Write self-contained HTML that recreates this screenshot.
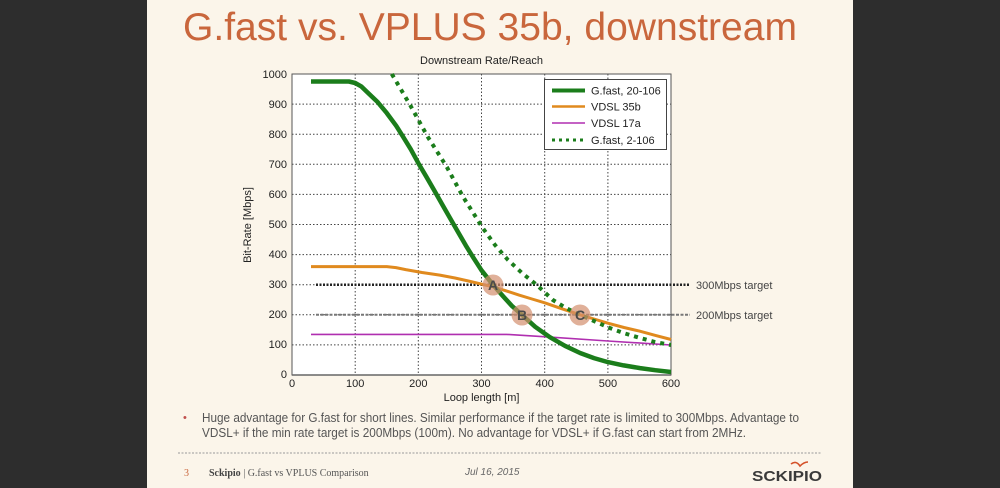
<!DOCTYPE html>
<html>
<head>
<meta charset="utf-8">
<style>
html,body{margin:0;padding:0;width:1000px;height:488px;overflow:hidden;background:#2d2d2d;}
svg{display:block;}
text{font-family:"Liberation Sans",Arial,sans-serif;}
</style>
</head>
<body>
<svg width="1000" height="488" viewBox="0 0 1000 488" xmlns="http://www.w3.org/2000/svg">
  <rect x="0" y="0" width="1000" height="488" fill="#2d2d2d"/>
  <rect x="147" y="0" width="706" height="488" fill="#fbf5ea"/>

  <!-- Title -->
  <text x="183" y="40" font-size="39" fill="#c9663c" textLength="614" lengthAdjust="spacingAndGlyphs">G.fast vs. VPLUS 35b, downstream</text>

  <!-- Chart title -->
  <text x="481.5" y="64" font-size="11" fill="#222" text-anchor="middle">Downstream Rate/Reach</text>

  <!-- Plot area -->
  <rect x="292" y="74" width="379" height="301" fill="#ffffff"/>
  <g stroke="#444" stroke-width="1" stroke-dasharray="1.5 2" fill="none">
    <line x1="355.2" y1="74" x2="355.2" y2="375"/>
    <line x1="418.3" y1="74" x2="418.3" y2="375"/>
    <line x1="481.5" y1="74" x2="481.5" y2="375"/>
    <line x1="544.7" y1="74" x2="544.7" y2="375"/>
    <line x1="607.9" y1="74" x2="607.9" y2="375"/>
    <line x1="292" y1="344.9" x2="671" y2="344.9"/>
    <line x1="292" y1="314.8" x2="671" y2="314.8"/>
    <line x1="292" y1="284.7" x2="671" y2="284.7"/>
    <line x1="292" y1="254.6" x2="671" y2="254.6"/>
    <line x1="292" y1="224.5" x2="671" y2="224.5"/>
    <line x1="292" y1="194.4" x2="671" y2="194.4"/>
    <line x1="292" y1="164.3" x2="671" y2="164.3"/>
    <line x1="292" y1="134.2" x2="671" y2="134.2"/>
    <line x1="292" y1="104.1" x2="671" y2="104.1"/>
  </g>
  <rect x="292" y="74" width="379" height="301" fill="none" stroke="#555" stroke-width="1"/>
  <line x1="292" y1="375" x2="671" y2="375" stroke="#666" stroke-width="1.5"/>

  <!-- Y tick labels -->
  <g font-size="11" fill="#222" text-anchor="end">
    <text x="287" y="78">1000</text>
    <text x="287" y="108">900</text>
    <text x="287" y="138">800</text>
    <text x="287" y="168">700</text>
    <text x="287" y="198">600</text>
    <text x="287" y="228">500</text>
    <text x="287" y="258">400</text>
    <text x="287" y="288">300</text>
    <text x="287" y="318">200</text>
    <text x="287" y="348">100</text>
    <text x="287" y="378">0</text>
  </g>
  <!-- X tick labels -->
  <g font-size="11" fill="#222" text-anchor="middle">
    <text x="292" y="387">0</text>
    <text x="355.2" y="387">100</text>
    <text x="418.3" y="387">200</text>
    <text x="481.5" y="387">300</text>
    <text x="544.7" y="387">400</text>
    <text x="607.9" y="387">500</text>
    <text x="671" y="387">600</text>
  </g>
  <text x="481.5" y="401" font-size="11" fill="#222" text-anchor="middle">Loop length [m]</text>
  <text x="0" y="0" font-size="11" fill="#222" text-anchor="middle" transform="translate(251,225) rotate(-90)">Bit-Rate [Mbps]</text>

  <!-- Target lines -->
  <line x1="316" y1="284.7" x2="690" y2="284.7" stroke="#222" stroke-width="2.5" stroke-dasharray="2 1.5"/>
  <line x1="316" y1="314.8" x2="690" y2="314.8" stroke="#777" stroke-width="2" stroke-dasharray="3 1.5"/>
  <text x="696" y="289" font-size="11" fill="#444">300Mbps target</text>
  <text x="696" y="319" font-size="11" fill="#444">200Mbps target</text>

  <!-- VDSL 17a -->
  <polyline fill="none" stroke="#b02fb0" stroke-width="1.6" stroke-linejoin="round"
    points="311,334.4 506.8,334.4 549.7,337.1 607.9,341 671,345"/>

  <!-- VDSL 35b -->
  <polyline fill="none" stroke="#e08a1e" stroke-width="3" stroke-linejoin="round"
    points="311,266.6 386.8,266.6 396,267.6 405.7,269.6 422,272.5 439.8,275.1 455,278 468.9,281.1 492.9,286.8 506,290.8 519.4,295.2 532,299 544.7,302.8 562,308.8 580.1,314.8 594,319 607.9,323.2 624,327.5 639.4,331.1 655,335.3 671,339.5"/>

  <!-- G.fast 2-106 dotted -->
  <polyline fill="none" stroke="#1b7d1b" stroke-width="4" stroke-dasharray="4 5" stroke-linejoin="round"
    points="391.8,74 410.1,105 427.8,136.9 446.8,167 463.2,197.1 482.8,228.1 495,245 508,260 522,273 536.5,284.7 552.9,300 566,308 580.1,314.8 595,321.5 609.7,328 625,333.5 640.1,338 655,342 671,345"/>

  <!-- G.fast 20-106 solid -->
  <polyline fill="none" stroke="#1b7d1b" stroke-width="4.5" stroke-linejoin="round" stroke-linecap="butt"
    points="311,81.5 348.9,81.5 355.2,83.0 361.5,86.6 367.2,92.1 377.3,101.7 386.8,113.1 396.2,125.8 403.2,136.9 410.8,149.3 418.3,163.1 426.6,177.2 434.8,191.4 442.3,204.6 449.9,217.9 457.5,231.1 465.7,245.3 473.3,257.6 481.5,270.3 492.9,284.7 502.4,295.5 511.8,305.8 521.9,314.8 535.2,326.8 549.7,337.1 564.9,345.8 580.1,353 594,358.1 607.9,362.1 623.6,365.4 640.1,368.1 655.2,370.2 671,372"/>

  <!-- Markers A B C -->
  <g fill="#d38f6e" fill-opacity="0.7">
    <circle cx="493" cy="285" r="10.5"/>
    <circle cx="522" cy="315" r="10.5"/>
    <circle cx="580" cy="315" r="10.5"/>
  </g>
  <g font-size="14" font-weight="bold" fill="#4a4a4a" text-anchor="middle">
    <text x="493" y="290">A</text>
    <text x="522" y="320">B</text>
    <text x="580" y="320">C</text>
  </g>

  <!-- Legend -->
  <rect x="544.5" y="79.5" width="122" height="70" fill="#ffffff" stroke="#444" stroke-width="1"/>
  <line x1="552" y1="90.5" x2="585" y2="90.5" stroke="#1b7d1b" stroke-width="4"/>
  <line x1="552" y1="106.5" x2="585" y2="106.5" stroke="#e08a1e" stroke-width="2.5"/>
  <line x1="552" y1="123" x2="585" y2="123" stroke="#b02fb0" stroke-width="1.5"/>
  <line x1="552" y1="140" x2="585" y2="140" stroke="#1b7d1b" stroke-width="3" stroke-dasharray="3 4"/>
  <g font-size="11" fill="#222">
    <text x="591" y="94.5">G.fast, 20-106</text>
    <text x="591" y="110.5">VDSL 35b</text>
    <text x="591" y="127">VDSL 17a</text>
    <text x="591" y="144">G.fast, 2-106</text>
  </g>

  <!-- Bullet -->
  <text x="183" y="421" font-size="11" fill="#c0504d">•</text>
  <text x="202" y="422" font-size="12.5" fill="#555" textLength="597" lengthAdjust="spacingAndGlyphs">Huge advantage for G.fast for short lines. Similar performance if the target rate is limited to 300Mbps. Advantage to</text>
  <text x="202" y="437" font-size="12.5" fill="#555" textLength="544" lengthAdjust="spacingAndGlyphs">VDSL+ if the min rate target is 200Mbps (100m). No advantage for VDSL+ if G.fast can start from 2MHz.</text>

  <!-- Separator -->
  <line x1="178" y1="453" x2="822" y2="453" stroke="#999" stroke-width="1" stroke-dasharray="2 1.5"/>

  <!-- Footer -->
  <text x="184" y="476" font-size="10" fill="#c9663c" style="font-family:'Liberation Serif',serif">3</text>
  <text x="209" y="476" font-size="10" fill="#555" style="font-family:'Liberation Serif',serif"><tspan font-weight="bold" fill="#444">Sckipio</tspan> | G.fast vs VPLUS Comparison</text>
  <text x="465" y="475" font-size="10" fill="#666" font-style="italic">Jul 16, 2015</text>

  <!-- Logo -->
  <path d="M791,464 Q796,460 800,466 Q804,462 808,462" fill="none" stroke="#d4522a" stroke-width="1.6"/>
  <text x="752" y="481" font-size="15" font-weight="bold" fill="#3a3a3a" textLength="70" lengthAdjust="spacingAndGlyphs">SCKIPIO</text>
</svg>
</body>
</html>
